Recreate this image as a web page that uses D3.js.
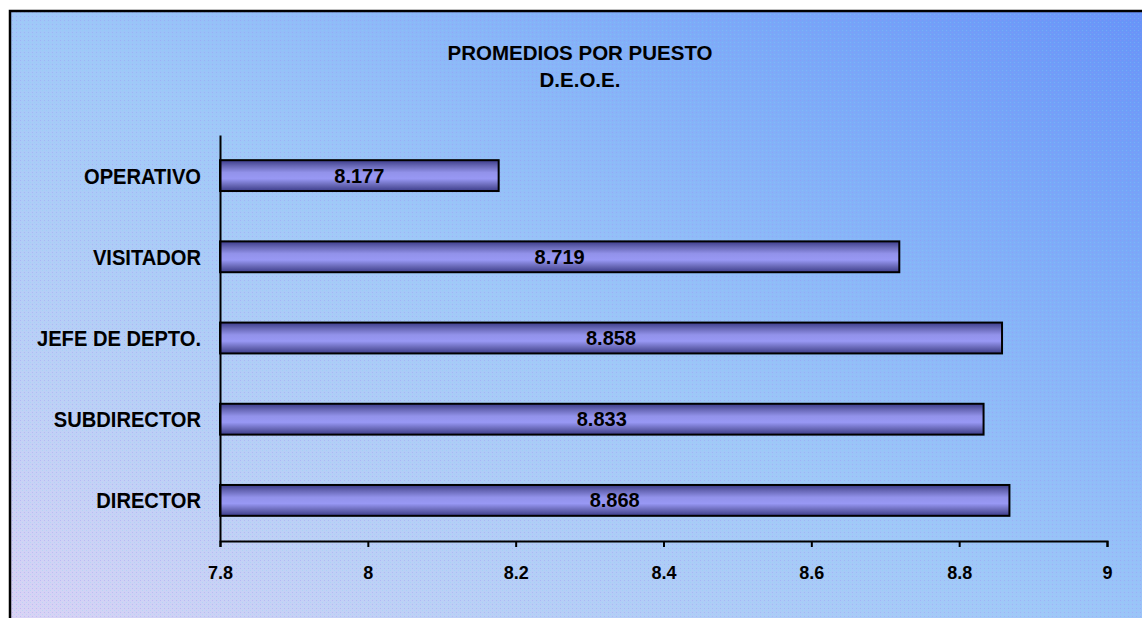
<!DOCTYPE html>
<html><head><meta charset="utf-8">
<script src="https://cdn.jsdelivr.net/npm/d3@7"></script>
<style>html,body{margin:0;padding:0;background:#fff;}svg{display:block;}</style>
</head><body>
<svg id="c" width="1142" height="618"></svg>
<script>
const titleLines = ["PROMEDIOS POR PUESTO", "D.E.O.E."];
const categories = ["OPERATIVO", "VISITADOR", "JEFE DE DEPTO.", "SUBDIRECTOR", "DIRECTOR"];
const values = [8.177, 8.719, 8.858, 8.833, 8.868];
const valueLabels = ["8.177", "8.719", "8.858", "8.833", "8.868"];
const tickValues = [7.8, 8, 8.2, 8.4, 8.6, 8.8, 9];
const tickLabels = ["7.8", "8", "8.2", "8.4", "8.6", "8.8", "9"];

const svg = d3.select("#c");
const defs = svg.append("defs");
const bg = defs.append("linearGradient").attr("id","bg")
  .attr("x1","0").attr("y1","1").attr("x2","1").attr("y2","0");
[[0,"#e4d4f4"],[0.25,"#bcd0f6"],[0.5,"#a0c8f8"],[0.75,"#80aef8"],[1,"#6490f8"]]
  .forEach(([o,c])=>bg.append("stop").attr("offset",o).attr("stop-color",c));
const pat = defs.append("pattern").attr("id","dither").attr("width",4).attr("height",4)
  .attr("patternUnits","userSpaceOnUse");
pat.append("rect").attr("x",0).attr("y",0).attr("width",1).attr("height",1).attr("fill","#9a8cf0").attr("opacity",0.35);
pat.append("rect").attr("x",2).attr("y",2).attr("width",1).attr("height",1).attr("fill","#7ee0f0").attr("opacity",0.3);
const bar = defs.append("linearGradient").attr("id","bar")
  .attr("x1","0").attr("y1","0").attr("x2","0").attr("y2","1");
[[0,"#3c3c8a"],[0.18,"#6666b4"],[0.4,"#9292ea"],[0.6,"#9898f4"],[0.82,"#6666b4"],[1,"#3c3c8a"]]
  .forEach(([o,c])=>bar.append("stop").attr("offset",o).attr("stop-color",c));

svg.append("rect").attr("x",10).attr("y",11).attr("width",1200).attr("height",700)
  .attr("fill","url(#bg)");
svg.append("rect").attr("x",10).attr("y",11).attr("width",1200).attr("height",700)
  .attr("fill","url(#dither)");
svg.append("rect").attr("x",10).attr("y",11).attr("width",1200).attr("height",700)
  .attr("fill","none").attr("stroke","#000").attr("stroke-width",2.5);

const font = "'Liberation Sans', Arial, sans-serif";
const x = d3.scaleLinear().domain([7.8, 9]).range([220, 1107]);
const y = d3.scaleBand().domain(categories).range([135, 541]).paddingInner(0.62).paddingOuter(0.31);

// title
svg.append("g").selectAll("text").data(titleLines).join("text")
  .attr("x", 580).attr("y",(d,i)=>60+i*27).attr("text-anchor","middle")
  .attr("font-family",font).attr("font-weight","bold").attr("font-size",20.5)
  .attr("fill","#000").text(d=>d);

// bars
svg.append("g").selectAll("rect").data(values).join("rect")
  .attr("x", x(7.8)).attr("y",(d,i)=>y(categories[i]))
  .attr("width", d=>x(d)-x(7.8)).attr("height", y.bandwidth())
  .attr("fill","url(#bar)").attr("stroke","#000").attr("stroke-width",2);

// value labels
svg.append("g").selectAll("text").data(values).join("text")
  .attr("x", d=>(x(d)+x(7.8))/2).attr("y",(d,i)=>y(categories[i])+y.bandwidth()/2+7)
  .attr("text-anchor","middle").attr("font-family",font).attr("font-weight","bold")
  .attr("font-size",20).attr("fill","#000").text((d,i)=>valueLabels[i]);

// x axis
const xAxis = d3.axisBottom(x).tickValues(tickValues).tickSize(6).tickFormat((d,i)=>tickLabels[i]);
const gx = svg.append("g").attr("transform","translate(0,541)").call(xAxis);
gx.select(".domain").attr("stroke","#000").attr("stroke-width",2);
gx.selectAll(".tick line").attr("stroke","#000").attr("stroke-width",2);
gx.selectAll(".tick text").attr("font-family",font).attr("font-weight","bold")
  .attr("font-size",18).attr("fill","#000").attr("dy","0").attr("y",38);

// y axis
const sx = 0.915;
const yAxis = d3.axisLeft(y).tickSize(0).tickPadding(19);
const gy = svg.append("g").attr("transform","translate(220,0)").call(yAxis);
gy.select(".domain").attr("stroke","#000").attr("stroke-width",2);
gy.selectAll(".tick text").attr("font-family",font)
  .attr("font-weight","bold").attr("font-size",22).attr("fill","#000").attr("dy","0.36em")
  .attr("x", -19/sx).attr("transform",`scale(${sx},1)`);
</script>
</body></html>
